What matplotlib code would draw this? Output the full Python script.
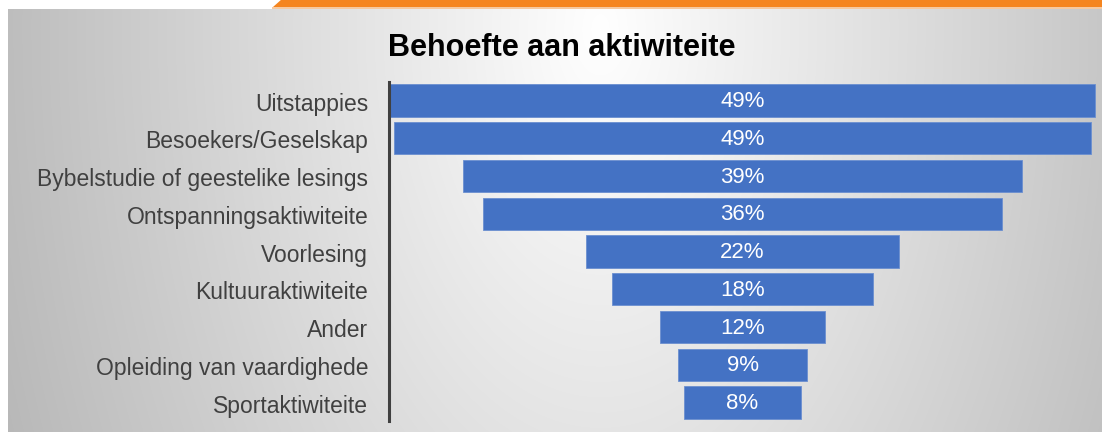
import numpy as np
import matplotlib
matplotlib.use("Agg")
import matplotlib.pyplot as plt
from matplotlib.patches import Polygon, Rectangle

# Data
categories = ["Uitstappies", "Besoekers/Geselskap", "Bybelstudie of geestelike lesings",
              "Ontspanningsaktiwiteite", "Voorlesing", "Kultuuraktiwiteite", "Ander",
              "Opleiding van vaardighede", "Sportaktiwiteite"]
values = [49.4, 48.9, 39.2, 36.3, 21.9, 18.3, 11.6, 9.1, 8.2]
title = "Behoefte aan aktiwiteite"

W, H = 1102, 435
plt.rcParams['font.family'] = ['Liberation Sans', 'DejaVu Sans']

fig = plt.figure(figsize=(W / 100, H / 100), dpi=100)

# background: grey radial gradient panel + orange strip on top
bg = fig.add_axes([0, 0, 1, 1])
bg.set_xlim(0, W)
bg.set_ylim(H, 0)
bg.axis("off")
xx, yy = np.meshgrid(np.arange(W), np.arange(H))
r = np.sqrt(((xx - 600) / 560.0) ** 2 + ((yy - 30) / 950.0) ** 2)
shade = np.clip(255 - 62 * r, 150, 255) / 255.0
img = np.ones((H, W, 3))
panel = (xx >= 8) & (yy >= 10) & (yy <= 432)
for c in range(3):
    img[..., c] = np.where(panel, shade, 1.0)
bg.imshow(img, extent=(0, W, H, 0), aspect="auto", interpolation="bilinear")
bg.add_patch(Polygon([(282, 0), (W, 0), (W, 8), (273, 8)], closed=True,
                     facecolor="#f5851f", edgecolor="none"))
bg.add_patch(Rectangle((272, 8), W - 272, 2, facecolor="#f6c9a0", edgecolor="none"))

fig.text(562 / W, 1 - 48 / H, title, ha="center", va="center",
         fontsize=22, fontweight="bold", color="black")

# funnel bars
ax = fig.add_axes([389 / W, 1 - 422.4 / H, 1 - 389 / W, 339.75 / H])
ax.patch.set_alpha(0)
y = np.arange(len(categories))
vals = np.array(values)
ax.barh(y, vals, left=-vals / 2, height=0.85, color="#4472c4",
        edgecolor="#6b8fd0", linewidth=0.6)
for yi, v in zip(y, vals):
    ax.text(0, yi, f"{v:.0f}%", ha="center", va="center",
            color="white", fontsize=16)

ax.set_xlim(-24.77, 25.19)
ax.set_ylim(len(categories) - 0.5, -0.5)
ax.set_yticks(y)
ax.set_yticklabels(categories, fontsize=16.5, color="#404040")
ax.tick_params(axis="y", length=0, pad=15)
ax.set_xticks([])
for s in ["top", "right", "bottom"]:
    ax.spines[s].set_visible(False)
ax.spines["left"].set_color("#404040")
ax.spines["left"].set_linewidth(2.2)

fig.savefig("out.png", dpi=100)
